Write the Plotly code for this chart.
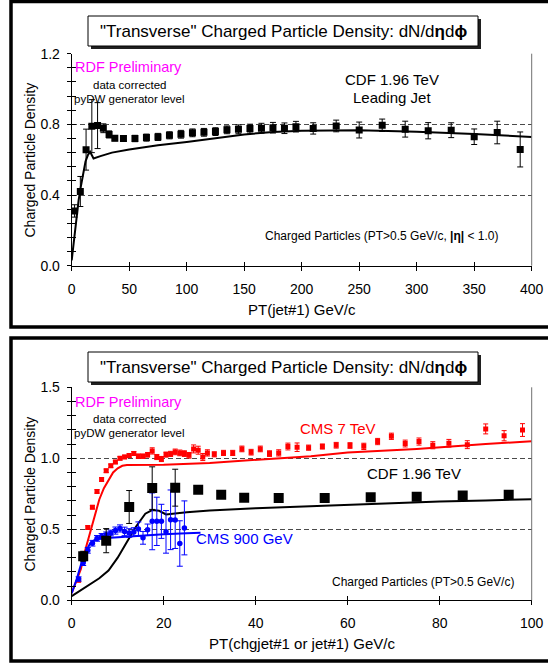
import plotly.graph_objects as go

W, H = 548, 667

# ---------------- data: top panel (CDF 1.96 TeV, leading jet) ----------------
cdf_x = [2.5, 7.5, 12.5, 17.5, 22.5, 27.5, 32.5, 37.5, 45, 55, 65, 75, 85, 95,
         105, 115, 125, 135, 145, 155, 165, 175, 185, 195, 210, 230, 250, 270,
         290, 310, 330, 350, 370, 390]
cdf_y = [0.31, 0.42, 0.657, 0.79, 0.793, 0.778, 0.743, 0.722, 0.72, 0.72, 0.725,
         0.729, 0.738, 0.744, 0.752, 0.755, 0.759, 0.769, 0.772, 0.776, 0.778,
         0.781, 0.778, 0.787, 0.777, 0.791, 0.768, 0.795, 0.773, 0.764, 0.767,
         0.73, 0.754, 0.658]
cdf_err = [0.035, 0.085, 0.116, 0.15, 0.13, 0.025, 0.02, 0.015, 0.015, 0.018,
           0.02, 0.02, 0.02, 0.022, 0.022, 0.022, 0.022, 0.022, 0.025, 0.025,
           0.028, 0.03, 0.03, 0.03, 0.032, 0.033, 0.045, 0.035, 0.045, 0.046,
           0.042, 0.044, 0.064, 0.099]

pydw_lj_x = [0, 2, 4, 6, 8, 10, 12, 14, 16, 18, 19, 25, 35, 50, 75, 100, 125,
             150, 175, 200, 250, 300, 350, 400]
pydw_lj_y = [0.03, 0.15, 0.26, 0.37, 0.45, 0.53, 0.59, 0.625, 0.645, 0.62, 0.607,
             0.62, 0.64, 0.658, 0.682, 0.70, 0.722, 0.743, 0.757, 0.764, 0.766,
             0.758, 0.745, 0.729]

# ---------------- data: bottom panel ----------------
n_cdf_low = 14  # CDF points shown up to 100 GeV/c

cms7_x = [1.5, 2.5, 3.5, 4.5, 5.5, 6.5, 7.5, 8.5, 9.5, 10.5, 11.5, 12.5, 13.5,
          14.5, 15.5, 16.5, 17.5, 18.5, 19.5, 20.5, 21.5, 22.5, 23.5, 24.5, 25.5,
          26.5, 27.5, 28.5, 29.5, 31, 33, 35, 37, 39, 41, 43, 45, 47, 49, 51.5,
          54.5, 57.5, 60.5, 63.5, 66.5, 69.5, 72.5, 75.5, 78.5, 82, 86, 90, 94, 98]
cms7_y = [0.142, 0.32, 0.512, 0.656, 0.767, 0.851, 0.912, 0.947, 0.974, 1.0,
          1.01, 1.019, 1.034, 1.015, 1.015, 1.025, 1.052, 1.009, 0.995, 1.026,
          1.031, 1.045, 1.038, 1.033, 1.021, 1.066, 1.057, 1.009, 1.038, 1.028,
          1.038, 1.038, 1.066, 1.043, 1.066, 1.033, 1.038, 1.083, 1.078, 1.075,
          1.083, 1.092, 1.09, 1.084, 1.118, 1.155, 1.104, 1.118, 1.092, 1.106,
          1.096, 1.207, 1.159, 1.199]
cms7_err = [0.012, 0.012, 0.012, 0.012, 0.012, 0.012, 0.012, 0.012, 0.012,
            0.012, 0.012, 0.014, 0.014, 0.015, 0.015, 0.016, 0.022, 0.018,
            0.018, 0.018, 0.018, 0.02, 0.02, 0.02, 0.02, 0.028, 0.028, 0.025,
            0.022, 0.018, 0.018, 0.018, 0.02, 0.02, 0.02, 0.02, 0.022, 0.024,
            0.03, 0.018, 0.018, 0.02, 0.02, 0.022, 0.022, 0.022, 0.024, 0.025,
            0.025, 0.027, 0.028, 0.035, 0.036, 0.045]

cms900_x = [1.5, 2.5, 3.5, 4.5, 5.5, 6.5, 7.5, 8.5, 9.5, 10.5, 11.5, 12.5, 13.5,
            14.5, 15.5, 16.5, 17.5, 18.5, 19.5, 20.5, 21.5, 22.5, 23.5, 24.5]
cms900_y = [0.15, 0.265, 0.352, 0.402, 0.436, 0.45, 0.461, 0.474, 0.491, 0.506,
            0.485, 0.474, 0.481, 0.502, 0.44, 0.497, 0.556, 0.556, 0.556, 0.482,
            0.567, 0.565, 0.40, 0.51]
cms900_err = [0.015, 0.02, 0.02, 0.02, 0.02, 0.02, 0.02, 0.02, 0.025, 0.025,
              0.03, 0.03, 0.03, 0.05, 0.045, 0.04, 0.2, 0.17, 0.12, 0.15, 0.21,
              0.2, 0.16, 0.19]

pydw7_x = [0, 2, 3, 4, 5, 6, 7, 8, 9, 10, 11, 12, 20, 30, 40, 52, 60, 75, 90, 100]
pydw7_y = [0.05, 0.22, 0.36, 0.48, 0.6, 0.71, 0.79, 0.85, 0.9, 0.93, 0.947, 0.952,
           0.955, 0.967, 0.99, 1.015, 1.04, 1.065, 1.1, 1.12]

pydw196_x = [0, 2, 4, 6, 8, 10, 12, 14, 16, 17.5, 19, 20.5, 25, 30, 40, 50, 60,
             70, 80, 90, 100]
pydw196_y = [0.03, 0.07, 0.11, 0.155, 0.21, 0.3, 0.41, 0.52, 0.61, 0.635, 0.63,
             0.605, 0.62, 0.632, 0.648, 0.66, 0.673, 0.685, 0.695, 0.703, 0.712]

pydw900_x = [0, 1, 2, 3, 4, 5, 6, 8, 10, 15, 20, 25, 28]
pydw900_y = [0.05, 0.14, 0.25, 0.34, 0.40, 0.425, 0.435, 0.44, 0.445, 0.455,
             0.465, 0.472, 0.475]

# tick settings
top_xtick, top_ytick, top_yminor = 50, 0.4, 0.08
bot_xtick, bot_ytick, bot_yminor = 20, 0.5, 0.1

# ---------------- layout helpers ----------------
def px(x):
    return x / W

def py(y):
    return 1 - y / H

FONT = "Liberation Sans, Arial, sans-serif"
MAG = "#ff00ff"
RED = "#ff0000"
BLUE = "#0000ff"

top_dom_x = [px(71.7), px(531.7)]
top_dom_y = [py(265.7), py(53.7)]
bot_dom_y = [py(600.3), py(387.3)]

fig = go.Figure()

# ---------- top panel traces ----------
fig.add_trace(go.Scatter(
    x=pydw_lj_x, y=pydw_lj_y, mode="lines",
    line=dict(color="black", width=2), xaxis="x", yaxis="y", showlegend=False))
fig.add_trace(go.Scatter(
    x=cdf_x, y=cdf_y, mode="markers",
    marker=dict(symbol="square", size=7, color="black"),
    error_y=dict(type="data", array=cdf_err, color="black", thickness=1, width=3),
    xaxis="x", yaxis="y", showlegend=False))

# ---------- bottom panel traces ----------
fig.add_trace(go.Scatter(
    x=cms7_x, y=cms7_y, mode="markers",
    marker=dict(symbol="square", size=5, color=RED),
    error_y=dict(type="data", array=cms7_err, color=RED, thickness=1, width=2.5),
    xaxis="x2", yaxis="y2", showlegend=False))
fig.add_trace(go.Scatter(
    x=pydw7_x, y=pydw7_y, mode="lines",
    line=dict(color=RED, width=2), xaxis="x2", yaxis="y2", showlegend=False))
fig.add_trace(go.Scatter(
    x=pydw196_x, y=pydw196_y, mode="lines",
    line=dict(color="black", width=2), xaxis="x2", yaxis="y2", showlegend=False))
fig.add_trace(go.Scatter(
    x=cms900_x, y=cms900_y, mode="markers",
    marker=dict(symbol="circle", size=5.5, color=BLUE),
    error_y=dict(type="data", array=cms900_err, color=BLUE, thickness=1, width=3),
    xaxis="x2", yaxis="y2", showlegend=False))
fig.add_trace(go.Scatter(
    x=pydw900_x, y=pydw900_y, mode="lines",
    line=dict(color=BLUE, width=2), xaxis="x2", yaxis="y2", showlegend=False))
fig.add_trace(go.Scatter(
    x=cdf_x[:n_cdf_low], y=cdf_y[:n_cdf_low], mode="markers",
    marker=dict(symbol="square", size=10, color="black"),
    error_y=dict(type="data", array=cdf_err[:n_cdf_low], color="black",
                 thickness=1, width=3),
    xaxis="x2", yaxis="y2", showlegend=False))

# dummy traces for overlay (inside-tick) axes
for xa, ya in (("x3", "y3"), ("x4", "y4")):
    fig.add_trace(go.Scatter(x=[None], y=[None], xaxis=xa, yaxis=ya,
                             showlegend=False, hoverinfo="skip"))

tickfont = dict(family=FONT, size=14, color="black")
common_x = dict(showgrid=False, zeroline=False, showline=True, linecolor="black",
                linewidth=1, ticks="outside", ticklen=4, tickcolor="black",
                tickwidth=1, tickfont=tickfont, fixedrange=True, automargin=False)
common_y = dict(zeroline=False, showline=True, linecolor="black", linewidth=1,
                ticks="outside", ticklen=4, tickcolor="black", tickwidth=1,
                tickfont=tickfont, showgrid=True, gridcolor="#4a4a4a",
                griddash="5px,3px", gridwidth=1, fixedrange=True, automargin=False)
inside_x = dict(showgrid=False, zeroline=False, showline=False, ticks="inside",
                ticklen=4, tickcolor="black", tickwidth=1, showticklabels=False,
                fixedrange=True, automargin=False)
inside_y = dict(showgrid=False, zeroline=False, showline=False, ticks="inside",
                ticklen=4, tickcolor="black", tickwidth=1, showticklabels=False,
                fixedrange=True, automargin=False)

fig.update_layout(
    width=W, height=H, margin=dict(l=0, r=0, t=0, b=0, pad=0),
    paper_bgcolor="white", plot_bgcolor="white", showlegend=False,
    font=dict(family=FONT, color="black"),
    xaxis=dict(domain=top_dom_x, anchor="y", range=[0, 400], dtick=top_xtick,
               tick0=0, ticklabelstandoff=6, **common_x),
    yaxis=dict(domain=top_dom_y, anchor="x", range=[0, 1.2], dtick=top_ytick,
               tick0=0, tickformat=".1f", ticklabelstandoff=4,
               minor=dict(dtick=top_yminor, tick0=0, ticks="outside", ticklen=4,
                          tickcolor="black", tickwidth=1, showgrid=False),
               **common_y),
    xaxis2=dict(domain=top_dom_x, anchor="y2", range=[0, 100], dtick=bot_xtick,
                tick0=0, ticklabelstandoff=6, **common_x),
    yaxis2=dict(domain=bot_dom_y, anchor="x2", range=[0, 1.5], dtick=bot_ytick,
                tick0=0, tickformat=".1f", ticklabelstandoff=4,
                minor=dict(dtick=bot_yminor, tick0=0, ticks="outside", ticklen=4,
                           tickcolor="black", tickwidth=1, showgrid=False),
                **common_y),
    xaxis3=dict(overlaying="x", anchor="y3", range=[0, 400], dtick=top_xtick,
                tick0=0, **inside_x),
    yaxis3=dict(overlaying="y", anchor="x3", range=[0, 1.2], dtick=top_ytick,
                tick0=0, minor=dict(dtick=top_yminor, tick0=0, ticks="inside",
                                    ticklen=4, tickcolor="black", tickwidth=1),
                **inside_y),
    xaxis4=dict(overlaying="x2", anchor="y4", range=[0, 100], dtick=bot_xtick,
                tick0=0, **inside_x),
    yaxis4=dict(overlaying="y2", anchor="x4", range=[0, 1.5], dtick=bot_ytick,
                tick0=0, minor=dict(dtick=bot_yminor, tick0=0, ticks="inside",
                                    ticklen=4, tickcolor="black", tickwidth=1),
                **inside_y),
)

shapes = []
# outer panel frames (right edge lies outside the picture)
for y0, y1 in ((1.5, 327), (338, 661)):
    shapes.append(dict(type="rect", xref="paper", yref="paper",
                       x0=px(11), x1=px(560), y0=py(y1), y1=py(y0),
                       line=dict(color="black", width=3.5), fillcolor="rgba(0,0,0,0)",
                       layer="above"))
# right plot edges (thin gray)
for ya in ("y", "y2"):
    xa = "x" if ya == "y" else "x2"
    shapes.append(dict(type="line", xref=f"{xa} domain", yref=f"{ya} domain",
                       x0=1, x1=1, y0=0, y1=1,
                       line=dict(color="#707070", width=1)))
# title boxes with shadow
for yt in (16, 352):
    shapes.append(dict(type="rect", xref="paper", yref="paper",
                       x0=px(91), x1=px(481), y0=py(yt + 33), y1=py(yt + 3),
                       line=dict(width=0), fillcolor="#202020", layer="above"))
    shapes.append(dict(type="rect", xref="paper", yref="paper",
                       x0=px(88), x1=px(478), y0=py(yt + 30), y1=py(yt),
                       line=dict(color="black", width=1), fillcolor="white",
                       layer="above"))
fig.update_layout(shapes=shapes)

ann = []

def text(x, y, s, size, color="black", xanchor="center", textangle=0):
    ann.append(dict(x=px(x), y=py(y), xref="paper", yref="paper", text=s,
                    showarrow=False, xanchor=xanchor, yanchor="middle",
                    textangle=textangle, borderpad=0,
                    font=dict(family=FONT, size=size, color=color)))

title = "\"Transverse\" Charged Particle Density: dN/d<b>η</b>d<b>ϕ</b>"
for yt in (16, 352):
    text(283, yt + 15.5, title, 17)

# top panel texts
text(74, 67, "RDF Preliminary", 14.5, MAG, xanchor="left")
text(129.5, 84.5, "data corrected", 11.5)
text(129.5, 99, "pyDW generator level", 11.5)
text(391.5, 79, "CDF 1.96 TeV", 15)
text(391.5, 97.5, "Leading Jet", 15)
text(500, 236, "Charged Particles (PT&gt;0.5 GeV/c, <b>|η|</b> &lt; 1.0)", 12,
     xanchor="right")
text(29.5, 160, "Charged Particle Density", 14, textangle=-90)
text(301.5, 309, "PT(jet#1) GeV/c", 15)

# bottom panel texts
text(74, 402, "RDF Preliminary", 14.5, MAG, xanchor="left")
text(129.5, 419, "data corrected", 11.5)
text(129.5, 433, "pyDW generator level", 11.5)
text(337.5, 428.5, "CMS 7 TeV", 15, RED)
text(413.5, 473.5, "CDF 1.96 TeV", 15)
text(195, 538.5, "CMS 900 GeV", 15, BLUE, xanchor="left")
text(515, 581.5, "Charged Particles (PT&gt;0.5 GeV/c)", 12, xanchor="right")
text(29.5, 494, "Charged Particle Density", 14, textangle=-90)
text(302, 643.5, "PT(chgjet#1 or jet#1) GeV/c", 15)

fig.update_layout(annotations=ann)

fig.write_html(
    "out.html",
    config={"displayModeBar": False, "staticPlot": True},
    post_script="document.body.style.margin='0';"
                "document.body.style.padding='0';"
                "document.body.style.overflow='hidden';",
)
